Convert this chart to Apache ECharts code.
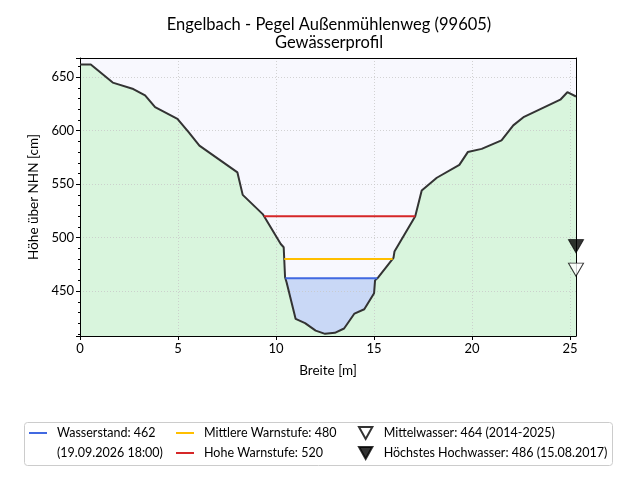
<!DOCTYPE html>
<html>
<head>
<meta charset="utf-8">
<script src="https://cdn.jsdelivr.net/npm/echarts@6/dist/echarts.min.js"></script>
<style>
  html, body { margin: 0; padding: 0; background: #fff; }
  #chart { width: 640px; height: 480px; }
</style>
</head>
<body>
<div id="chart"></div>
<script>
// Gewässerprofil: Breite [m] / Höhe [cm]
const profileX = [0, 0.55, 1.67, 2.72, 3.32, 3.83, 4.97, 5.53, 6.09, 8.03, 8.3, 9.32, 10.24, 10.39, 10.46, 10.54, 11.0, 11.48, 12.02, 12.5, 13.0, 13.47, 14.0, 14.5, 15.0, 15.05, 15.22, 15.99, 16.04, 17.1, 17.43, 18.2, 19.35, 19.78, 20.49, 21.5, 22.1, 22.65, 24.5, 24.86, 25.3]
const profileY = [662, 662, 645, 639, 633, 622, 611, 599, 586, 561, 540, 522, 494, 491, 463, 458, 424, 420, 413, 410, 411, 415, 429, 433, 448, 460, 463, 481, 487, 520, 544, 556, 568, 580, 583, 591, 605, 613, 629, 636, 632]

// Pegelstände
const levelNames = ['Wasserstand: 462', 'Mittlere Warnstufe: 480', 'Hohe Warnstufe: 520']
const levelValues = [462, 480, 520]
const levelColors = ['#4169e1', '#ffbf00', '#d62728']
const markerNames = ['Mittelwasser: 464 (2014-2025)', 'Höchstes Hochwasser: 486 (15.08.2017)']
const markerValues = [464, 486]

const xMin = 0
const xMax = 25.3
const yMin = 408
const yMax = 668
const font = 'Lato'

// Schnittpunkte des Pegels mit dem Profil (links/rechts vom tiefsten Punkt)
function crossing(level) {
  let iMin = 0
  profileY.forEach((v, i) => { if (v < profileY[iMin]) iMin = i })
  const lerp = (i, j) => profileX[i] + (level - profileY[i]) * (profileX[j] - profileX[i]) / (profileY[j] - profileY[i])
  let left = profileX[0], right = profileX[profileX.length - 1]
  for (let i = iMin; i > 0; i--) {
    if (profileY[i - 1] >= level) { left = lerp(i - 1, i); break }
  }
  for (let i = iMin; i < profileX.length - 1; i++) {
    if (profileY[i + 1] >= level) { right = lerp(i, i + 1); break }
  }
  return [left, right]
}

const profileData = profileX.map((x, i) => [x, profileY[i]])
const waterCross = crossing(levelValues[0])

const triangle = 'path://M0,0 L10,0 L5,9 Z'

const series = [
  {
    // Wasserfläche
    type: 'line', z: 1, silent: true,
    data: [[waterCross[0], levelValues[0]], [waterCross[1], levelValues[0]]],
    symbol: 'none', lineStyle: { width: 0 },
    areaStyle: { color: '#c9d8f6', opacity: 1, origin: 'start' }
  },
  {
    // Gelände
    type: 'line', z: 2, silent: true,
    data: profileData,
    symbol: 'none', lineStyle: { width: 0 },
    areaStyle: { color: '#d9f5dd', opacity: 1, origin: 'start' }
  },
  {
    type: 'line', z: 5, silent: true,
    data: profileData,
    symbol: 'none',
    lineStyle: { color: '#333', width: 2 }
  }
]

levelNames.forEach((name, k) => {
  const c = crossing(levelValues[k])
  series.push({
    name, type: 'line', z: 5,
    data: [[c[0], levelValues[k]], [c[1], levelValues[k]]],
    symbol: 'none',
    color: levelColors[k],
    lineStyle: { color: levelColors[k], width: 2 }
  })
})

markerNames.forEach((name, k) => {
  series.push({
    name, type: 'scatter', z: 6, clip: false,
    data: [[xMax, markerValues[k]]],
    symbol: triangle,
    symbolSize: [15, 13],
    symbolOffset: [0, '-50%'],
    itemStyle: k === 0
      ? { color: '#fff', borderColor: '#000', borderWidth: 1 }
      : { color: '#000', borderColor: '#000', borderWidth: 1 }
  })
})

const legendText = (pad) => ({ fontFamily: font, fontSize: 12.5, color: '#000', lineHeight: 14, padding: [0, 0, 0, pad] })
const gridLine = { show: true, showMinLine: false, showMaxLine: false, lineStyle: { color: '#c8c8c8', type: [1, 2], width: 0.8 } }
// Rahmen oben/rechts
const frame = {
  type: 'value', z: 4,
  axisLine: { show: true, onZero: false, lineStyle: { color: '#000', width: 1 } },
  axisTick: { show: false }, axisLabel: { show: false }, splitLine: { show: false }
}

const chart = echarts.init(document.getElementById('chart'))
chart.setOption({
  animation: false,
  grid: {
    left: 80, right: 64, top: 58, bottom: 144,
    show: true, backgroundColor: '#f8f8fe', borderWidth: 0
  },
  xAxis: [
    {
      type: 'value', min: xMin, max: xMax, interval: 5, z: 3,
      name: 'Breite [m]', nameLocation: 'middle', nameGap: 28,
      nameTextStyle: { fontFamily: font, fontSize: 13.5, color: '#000' },
      axisLine: { onZero: false, lineStyle: { color: '#000' } },
      axisTick: { show: true, length: 4, lineStyle: { color: '#000' } },
      axisLabel: { fontFamily: font, fontSize: 13, color: '#000', margin: 6, showMaxLabel: false },
      splitLine: gridLine
    },
    Object.assign({ position: 'top', min: xMin, max: xMax }, frame)
  ],
  yAxis: [
    {
      type: 'value', min: yMin, max: yMax, z: 3,
      name: 'Höhe über NHN [cm]', nameLocation: 'middle', nameGap: 38,
      nameTextStyle: { fontFamily: font, fontSize: 13.5, color: '#000' },
      axisLine: { show: true, onZero: false, lineStyle: { color: '#000' } },
      axisTick: { show: true, length: 4, lineStyle: { color: '#000' } },
      minorTick: { show: true, splitNumber: 5, length: 2, lineStyle: { color: '#000' } },
      axisLabel: { fontFamily: font, fontSize: 13, color: '#000', margin: 6, showMinLabel: false, showMaxLabel: false },
      splitLine: gridLine
    },
    Object.assign({ position: 'right', min: yMin, max: yMax }, frame)
  ],
  legend: [
    {
      left: 29, top: 426, orient: 'vertical', padding: 0,
      data: [levelNames[0]],
      icon: 'rect', itemWidth: 18, itemHeight: 2,
      textStyle: legendText(5)
    },
    {
      left: 176, top: 426, orient: 'vertical', itemGap: 6, padding: 0,
      data: [levelNames[1], levelNames[2]],
      icon: 'rect', itemWidth: 18, itemHeight: 2,
      textStyle: legendText(5)
    },
    {
      left: 358, top: 426, orient: 'vertical', itemGap: 6, padding: 0,
      data: markerNames,
      icon: triangle, itemWidth: 14, itemHeight: 12,
      textStyle: legendText(6)
    }
  ],
  graphic: [
    {
      type: 'rect', z: -1,
      shape: { x: 24.5, y: 422.5, width: 588, height: 43, r: 3 },
      style: { fill: '#fff', stroke: '#cccccc', lineWidth: 1 }
    },
    {
      type: 'text', left: 57, top: 446,
      style: { text: '(19.09.2026 18:00)', font: '12.5px ' + font, fill: '#000' }
    },
    {
      type: 'text', x: 329, y: 16,
      style: { text: 'Engelbach - Pegel Außenmühlenweg (99605)', font: '16.5px ' + font, fill: '#000', align: 'center' }
    },
    {
      type: 'text', x: 329, y: 34,
      style: { text: 'Gewässerprofil', font: '16.5px ' + font, fill: '#000', align: 'center' }
    }
  ],
  series
})
</script>
</body>
</html>
